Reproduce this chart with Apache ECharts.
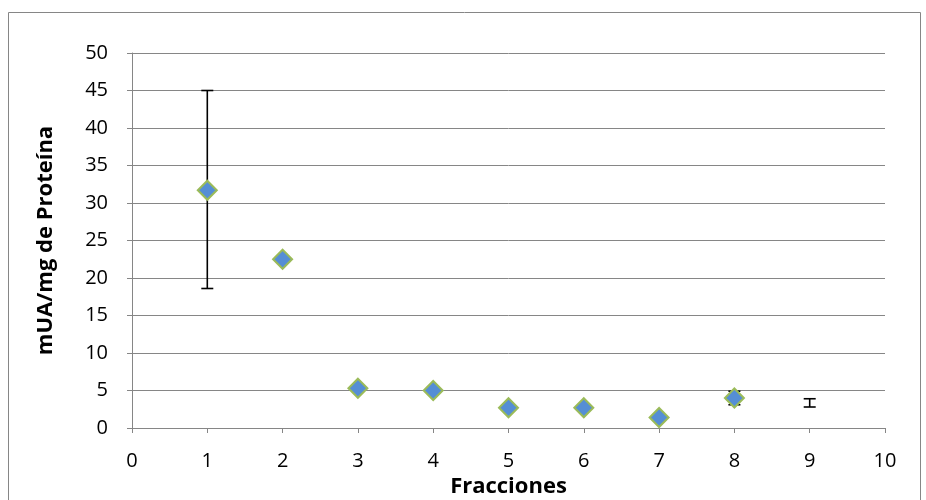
<!DOCTYPE html>
<html><head><meta charset="utf-8">
<script src="https://cdn.jsdelivr.net/npm/echarts@6/dist/echarts.min.js"></script>
<style>html,body{margin:0;padding:0;background:#fff}#c{width:926px;height:500px}</style>
</head><body><div id="c"></div>
<script>
const fracciones = [1, 2, 3, 4, 5, 6, 7, 8];
const valores = [31.7, 22.5, 5.3, 5.0, 2.7, 2.7, 1.4, 4.0];
const errX = [1, 7, 8, 9];
const errLow = [18.6, 1.2, 3.1, 2.8];
const errHigh = [45.0, 1.6, 4.9, 3.9];
const xTicks = [0,1,2,3,4,5,6,7,8,9,10];
const yTicks = [0,5,10,15,20,25,30,35,40,45,50];

const chart = echarts.init(document.getElementById('c'));
const font = '"Open Sans", "Liberation Sans", Arial, sans-serif';
chart.setOption({
  animation: false,
  graphic: [{type:'rect', shape:{x:8.5,y:12.5,width:912,height:500}, style:{fill:'none', stroke:'#868686', lineWidth:1}}],
  grid: {left:132, right:41, top:53, bottom:72, outerBoundsMode:'none', containLabel:false},
  xAxis: {type:'value', min:xTicks[0], max:xTicks[xTicks.length-1], interval:1,
    name:'Fracciones', nameLocation:'middle', nameGap:48,
    nameTextStyle:{fontFamily:font, fontWeight:'bold', fontSize:22, color:'#000'},
    axisLine:{lineStyle:{color:'#868686'}}, axisTick:{show:true, length:5, lineStyle:{color:'#868686'}},
    axisLabel:{fontFamily:font, fontSize:20, color:'#000', margin:23},
    splitLine:{show:false}},
  yAxis: {type:'value', min:yTicks[0], max:yTicks[yTicks.length-1], interval:5,
    name:'mUA/mg de Proteína', nameLocation:'middle', nameGap:75,
    nameTextStyle:{fontFamily:font, fontWeight:'bold', fontSize:22, color:'#000'},
    axisLine:{show:true, lineStyle:{color:'#868686'}}, axisTick:{show:true, length:5, lineStyle:{color:'#868686'}},
    axisLabel:{fontFamily:font, fontSize:20, color:'#000', margin:24},
    splitLine:{lineStyle:{color:'#868686', width:1}}},
  series: [
    {type:'custom', z:1,
     data: errX.map((x,i)=>[x, errLow[i], errHigh[i]]),
     renderItem: function(params, api){
       const x = api.value(0);
       const lo = api.coord([x, api.value(1)]);
       const hi = api.coord([x, api.value(2)]);
       const w = 6;
       const st = {stroke:'#000', lineWidth:1.6};
       return {type:'group', children:[
         {type:'line', shape:{x1:lo[0],y1:lo[1],x2:hi[0],y2:hi[1]}, style:st},
         {type:'line', shape:{x1:lo[0]-w,y1:lo[1],x2:lo[0]+w,y2:lo[1]}, style:st},
         {type:'line', shape:{x1:hi[0]-w,y1:hi[1],x2:hi[0]+w,y2:hi[1]}, style:st}
       ]};
     }},
    {type:'scatter', z:2, symbol:'diamond', symbolSize:[19,19],
     data: fracciones.map((x,i)=>[x, valores[i]]),
     itemStyle:{color:'#558ED5', borderColor:'#9BBB59', borderWidth:2, opacity:1}}
  ]
});
</script></body></html>
